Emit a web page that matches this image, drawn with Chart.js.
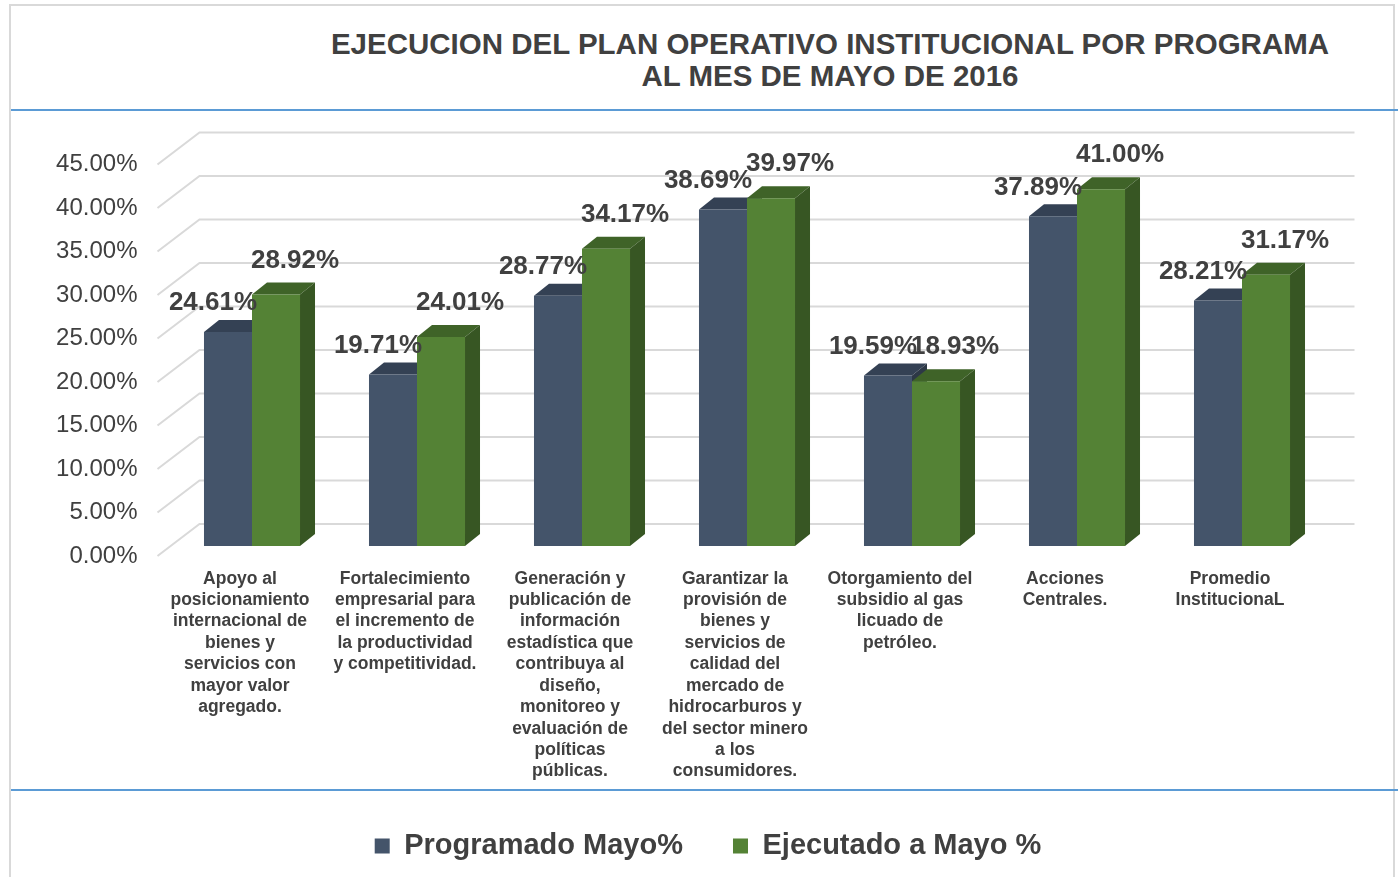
<!DOCTYPE html>
<html>
<head>
<meta charset="utf-8">
<script src="https://cdn.jsdelivr.net/npm/chart.js@4.4.1/dist/chart.umd.min.js"></script>
<style>
  html, body { margin: 0; padding: 0; background: #ffffff; }
  #wrap { position: relative; width: 1398px; height: 877px; overflow: hidden; }
  #frame { position: absolute; left: 9px; top: 4px; width: 1382px; height: 900px; border: 2px solid #d9d9d9; }
  .blue { position: absolute; left: 11px; width: 1387px; height: 2px; background: #5b9bd5; }
  #title { position: absolute; left: 330px; width: 1000px; top: 28px; text-align: center;
           font: bold 29.5px "Liberation Sans", Arial, sans-serif; line-height: 32px; color: #404040; }
  canvas { position: absolute; left: 0; top: 0; }
</style>
</head>
<body>
<div id="wrap">
  <div id="frame"></div>
  <div class="blue" style="top:109px"></div>
  <div class="blue" style="top:789px"></div>
  <div id="title">EJECUCION DEL PLAN OPERATIVO INSTITUCIONAL POR PROGRAMA<br>AL MES DE MAYO DE 2016</div>
  <canvas id="c" width="1398" height="877"></canvas>
</div>
<script>
// ---- data ----
const categories = [
  ["Apoyo al","posicionamiento","internacional de","bienes y","servicios con","mayor valor","agregado."],
  ["Fortalecimiento","empresarial para","el incremento de","la productividad","y competitividad."],
  ["Generación y","publicación de","información","estadística que","contribuya al","diseño,","monitoreo y","evaluación de","políticas","públicas."],
  ["Garantizar la","provisión de","bienes y","servicios de","calidad del","mercado de","hidrocarburos y","del sector minero","a los","consumidores."],
  ["Otorgamiento del","subsidio al gas","licuado de","petróleo."],
  ["Acciones","Centrales."],
  ["Promedio","InstitucionaL"]
];
const programado = [24.61, 19.71, 28.77, 38.69, 19.59, 37.89, 28.21];
const ejecutado  = [28.92, 24.01, 34.17, 39.97, 18.93, 41.00, 31.17];
const seriesNames = ["Programado Mayo%", "Ejecutado a Mayo %"];
const yTicks = [0, 5, 10, 15, 20, 25, 30, 35, 40, 45];

// ---- styling / 3D geometry ----
const FONT = '"Liberation Sans", Arial, sans-serif';
const TEXT = '#404040';
const GRID = '#d9d9d9';
const BACK = {dx: 42, dy: -32};   // wall depth
const BAR_T = {dx: 12, dy: -10};  // bar front face offset from front plane
const BAR_D = {dx: 15, dy: -12};  // bar depth
const faces = [
  {front: '#44546A', top: '#344154', side: '#2d3846'},
  {front: '#548235', top: '#3f6328', side: '#375623'}
];
const labelOff = [{dx: -15, dy: -29}, {dx: 19, dy: -34}];

const threeD = {
  id: 'threeD',
  beforeDatasetsDraw(chart) {
    const ctx = chart.ctx, a = chart.chartArea, ys = chart.scales.y;
    ctx.save();
    ctx.strokeStyle = GRID; ctx.lineWidth = 2;
    yTicks.forEach(v => {
      const y = ys.getPixelForValue(v);
      ctx.beginPath();
      ctx.moveTo(a.left, y);
      ctx.lineTo(a.left + BACK.dx, y + BACK.dy);
      ctx.lineTo(a.right + BACK.dx, y + BACK.dy);
      ctx.stroke();
    });
    // top and side faces (drawn behind the front faces)
    chart.data.datasets.forEach((ds, di) => {
      const meta = chart.getDatasetMeta(di);
      meta.data.forEach(bar => {
        const w = bar.width;
        const x0 = bar.x - w / 2 + BAR_T.dx, x1 = x0 + w;
        const yt = bar.y + BAR_T.dy, yb = bar.base + BAR_T.dy;
        ctx.fillStyle = faces[di].top;
        ctx.beginPath();
        ctx.moveTo(x0, yt); ctx.lineTo(x1, yt);
        ctx.lineTo(x1 + BAR_D.dx, yt + BAR_D.dy); ctx.lineTo(x0 + BAR_D.dx, yt + BAR_D.dy);
        ctx.closePath(); ctx.fill();
        ctx.fillStyle = faces[di].side;
        ctx.beginPath();
        ctx.moveTo(x1, yt); ctx.lineTo(x1 + BAR_D.dx, yt + BAR_D.dy);
        ctx.lineTo(x1 + BAR_D.dx, yb + BAR_D.dy); ctx.lineTo(x1, yb);
        ctx.closePath(); ctx.fill();
      });
    });
    ctx.restore();
    ctx.save();
    ctx.translate(BAR_T.dx, BAR_T.dy);
  },
  afterDatasetsDraw(chart) {
    const ctx = chart.ctx;
    ctx.restore();
    ctx.save();
    ctx.font = 'bold 26px ' + FONT;
    ctx.fillStyle = TEXT;
    ctx.textAlign = 'center';
    ctx.textBaseline = 'middle';
    chart.data.datasets.forEach((ds, di) => {
      const meta = chart.getDatasetMeta(di);
      meta.data.forEach((bar, i) => {
        const x = bar.x + BAR_T.dx + labelOff[di].dx;
        const y = bar.y + BAR_T.dy + labelOff[di].dy;
        ctx.fillText(ds.data[i].toFixed(2) + '%', x, y);
      });
    });
    ctx.restore();
  }
};

new Chart(document.getElementById('c'), {
  type: 'bar',
  data: {
    labels: categories,
    datasets: [
      {label: seriesNames[0], data: programado, backgroundColor: faces[0].front, barPercentage: 1, categoryPercentage: 0.582},
      {label: seriesNames[1], data: ejecutado,  backgroundColor: faces[1].front, barPercentage: 1, categoryPercentage: 0.582}
    ]
  },
  options: {
    responsive: false,
    animation: false,
    layout: {padding: {top: 164.5, left: 18, right: 0, bottom: 6.5}},
    plugins: {
      title: {display: false},
      tooltip: {enabled: false},
      legend: {
        display: true,
        position: 'bottom',
        labels: {
          font: {family: FONT, size: 29, weight: 'bold'},
          color: TEXT,
          boxWidth: 15,
          boxHeight: 15,
          padding: 50
        }
      }
    },
    scales: {
      x: {
        grid: {display: false, drawTicks: false},
        border: {display: false},
        ticks: {
          font: {family: FONT, size: 17.5, weight: 'bold', lineHeight: 1.225},
          color: TEXT,
          maxRotation: 0, minRotation: 0, autoSkip: false,
          padding: 12
        },
        afterFit(s) { s.height = 225.5; }
      },
      y: {
        min: 0, max: 45,
        grid: {display: false, drawTicks: false},
        border: {display: false},
        ticks: {
          stepSize: 5,
          font: {family: FONT, size: 24},
          color: TEXT,
          padding: 20,
          callback: v => v.toFixed(2) + '%'
        },
        afterFit(s) { s.width = 139.5; }
      },
      yr: {
        position: 'right',
        display: true,
        grid: {display: false, drawTicks: false},
        border: {display: false},
        ticks: {display: false},
        afterFit(s) { s.width = 85.5; }
      }
    }
  },
  plugins: [threeD]
});
</script>
</body>
</html>
